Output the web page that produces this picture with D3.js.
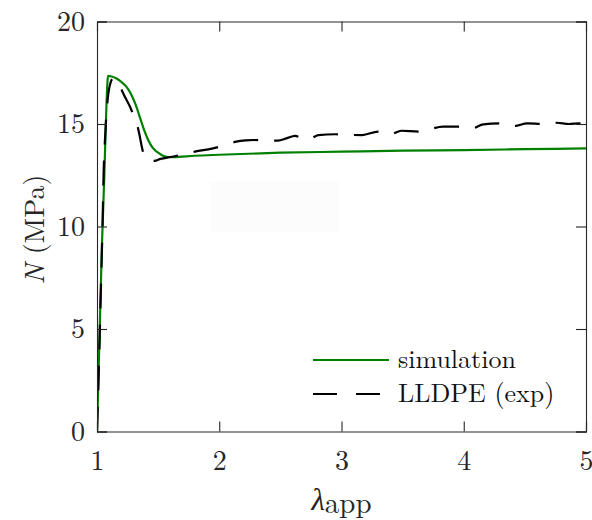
<!DOCTYPE html>
<html>
<head>
<meta charset="utf-8">
<script src="https://cdn.jsdelivr.net/npm/d3@7"></script>
<style>
  body { margin: 0; background: #fff; }
</style>
</head>
<body>
<div id="chart"></div>
<script>
// Chart set up
var svgWidth = 592;
var svgHeight = 520;
var FONT = "'Latin Modern Roman', 'Liberation Serif', serif";

var margin = { top: 21.5, right: 6, bottom: 88.5, left: 97 };

var width = svgWidth - margin.left - margin.right;
var height = svgHeight - margin.top - margin.bottom;

// data: simulation curve
var simX = [1.00, 1.02, 1.04, 1.06, 1.075, 1.085, 1.09, 1.12, 1.16, 1.20, 1.243, 1.27, 1.297, 1.325,
            1.352, 1.38, 1.407, 1.435, 1.46, 1.50, 1.54, 1.58, 1.62, 1.80, 2.00, 2.50, 3.00, 3.50,
            4.00, 4.50, 5.00];
var simN = [0, 4.5, 9, 12.5, 15.5, 17.0, 17.35, 17.32, 17.22, 17.05, 16.8, 16.55, 16.22, 15.8,
            15.3, 14.8, 14.38, 14.03, 13.81, 13.6, 13.45, 13.39, 13.38, 13.45, 13.5, 13.6, 13.65, 13.7,
            13.73, 13.77, 13.81];

// data: LLDPE experiment
var expX = [1.00, 1.015, 1.03, 1.045, 1.055, 1.065, 1.08, 1.093, 1.11, 1.133, 1.16, 1.19, 1.23, 1.27,
            1.30, 1.325, 1.35, 1.366, 1.39, 1.43, 1.47, 1.52, 1.60, 1.70, 1.80, 1.94, 2.04, 2.14,
            2.22, 2.28, 2.38, 2.48, 2.55, 2.62, 2.68, 2.73, 2.81, 2.95, 3.06, 3.17, 3.30, 3.40,
            3.49, 3.63, 3.72, 3.83, 3.97, 4.07, 4.16, 4.31, 4.41, 4.52, 4.65, 4.76, 4.86, 4.95, 5.00];
var expN = [0, 3, 6.5, 10, 12.8, 14.2, 15.7, 16.5, 17.0, 17.23, 17.1, 16.8, 16.3, 15.84,
            15.4, 15.03, 14.4, 13.9, 13.4, 13.2, 13.2, 13.3, 13.39, 13.5, 13.65, 13.8, 13.95, 14.14,
            14.2, 14.22, 14.2, 14.19, 14.3, 14.42, 14.3, 14.25, 14.46, 14.5, 14.47, 14.46, 14.63, 14.5,
            14.67, 14.63, 14.74, 14.87, 14.87, 14.79, 14.98, 15.03, 14.9, 15.03, 15.0, 15.06, 15.0, 15.03, 15.0];

var xTicks = [1, 2, 3, 4, 5];
var yTicks = [0, 5, 10, 15, 20];
var legendLabels = ["simulation", "LLDPE (exp)"];

var simData = simX.map(function(x, i) { return { x: x, y: simN[i] }; });
var expData = expX.map(function(x, i) { return { x: x, y: expN[i] }; });

var svg = d3.select("#chart")
  .append("svg")
  .attr("width", svgWidth)
  .attr("height", svgHeight);

var chartGroup = svg.append("g")
  .attr("transform", `translate(${margin.left}, ${margin.top})`);

// Create Scales
var xLinearScale = d3.scaleLinear().domain([1, 5]).range([0, width]);
var yLinearScale = d3.scaleLinear().domain([0, 20]).range([height, 0]);

// faint patch seen in the figure
chartGroup.append("rect")
  .attr("x", xLinearScale(1.92))
  .attr("y", yLinearScale(12.2))
  .attr("width", xLinearScale(2.98) - xLinearScale(1.92))
  .attr("height", yLinearScale(9.7) - yLinearScale(12.2))
  .attr("fill", "#fcfcfc");

chartGroup.append("clipPath").attr("id", "clip")
  .append("rect").attr("width", width).attr("height", height);

var line = d3.line()
  .x(d => xLinearScale(d.x))
  .y(d => yLinearScale(d.y))
  .curve(d3.curveMonotoneX);

chartGroup.append("path")
  .datum(simData)
  .attr("clip-path", "url(#clip)")
  .attr("fill", "none")
  .attr("stroke", "#008000")
  .attr("stroke-width", 2.2)
  .attr("d", line);

chartGroup.append("path")
  .datum(expData)
  .attr("clip-path", "url(#clip)")
  .attr("fill", "none")
  .attr("stroke", "#000")
  .attr("stroke-width", 2.2)
  .attr("stroke-dasharray", "25,16")
  .attr("d", line);

// Axes (ticks inside, mirrored)
var tickLen = 10;
var bottomAxis = d3.axisBottom(xLinearScale).tickValues(xTicks).tickSize(-tickLen).tickPadding(19).tickFormat(d3.format("d"));
var topAxis = d3.axisTop(xLinearScale).tickValues(xTicks).tickSize(-tickLen).tickFormat("");
var leftAxis = d3.axisLeft(yLinearScale).tickValues(yTicks).tickSize(-tickLen).tickPadding(12).tickFormat(d3.format("d"));
var rightAxis = d3.axisRight(yLinearScale).tickValues(yTicks).tickSize(-tickLen).tickFormat("");

var axes = [
  chartGroup.append("g").attr("transform", `translate(0, ${height})`).call(bottomAxis),
  chartGroup.append("g").call(topAxis),
  chartGroup.append("g").call(leftAxis),
  chartGroup.append("g").attr("transform", `translate(${width}, 0)`).call(rightAxis)
];
axes.forEach(function(g) {
  g.attr("font-family", null);
  g.select(".domain").attr("stroke", "#262626").attr("stroke-width", 1.1);
  g.selectAll(".tick line").attr("stroke", "#262626").attr("stroke-width", 1.1);
  g.selectAll(".tick text").attr("fill", "#262626")
    .style("font-family", FONT).style("font-size", "28px");
});

// Axis labels
var xLabel = chartGroup.append("text")
  .attr("x", width / 2)
  .attr("y", height + 78)
  .attr("text-anchor", "middle")
  .attr("fill", "#262626")
  .style("font-family", FONT)
  .style("font-size", "31px");
xLabel.append("tspan").style("font-style", "italic").text("λ");
xLabel.append("tspan").attr("dy", 3).style("font-size", "29px").text("app");

var yLabel = chartGroup.append("text")
  .attr("transform", `translate(-53, ${height / 2 + 3}) rotate(-90)`)
  .attr("text-anchor", "middle")
  .attr("fill", "#262626")
  .style("font-family", FONT)
  .style("font-size", "28px");
yLabel.append("tspan").style("font-style", "italic").text("N");
yLabel.append("tspan").text(" (MPa)");

// Legend
var legend = chartGroup.append("g").attr("transform", `translate(${313 - margin.left}, ${360 - margin.top})`);
legend.append("line").attr("x1", 0).attr("x2", 76).attr("y1", 0).attr("y2", 0)
  .attr("stroke", "#008000").attr("stroke-width", 2.2);
legend.append("line").attr("x1", 0).attr("x2", 76).attr("y1", 34).attr("y2", 34)
  .attr("stroke", "#000").attr("stroke-width", 2.2).attr("stroke-dasharray", "24,19");
legend.selectAll("text.lab")
  .data(legendLabels)
  .enter()
  .append("text")
  .attr("class", "lab")
  .attr("x", 85)
  .attr("y", (d, i) => i * 34 + 8)
  .attr("fill", "#111")
  .style("font-family", FONT)
  .style("font-size", "26px")
  .text(d => d);
</script>
</body>
</html>
